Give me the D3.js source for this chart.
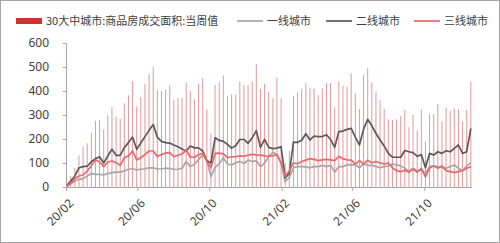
<!DOCTYPE html>
<html>
<head>
<meta charset="utf-8">
<script src="https://cdn.jsdelivr.net/npm/d3@7"></script>
<style>
  body { margin: 0; background: #fff; }
  svg { display: block; font-family: "Noto Sans CJK SC", "Noto Sans", sans-serif; }
</style>
</head>
<body>
<div id="chart"></div>
<script>
// weekly series, first week 2020-02-02
const startWeek = new Date(2020, 1, 2);

// 30大中城市:商品房成交面积:当周值 (万平方米)
const total = [10, 45, 80, 132, 168, 182, 226, 276, 279, 240, 298, 333, 293, 285, 349, 382, 442, 335, 375, 430,
  470, 501, 404, 400, 406, 425, 364, 369, 372, 435, 400, 365, 430, 453, 324, 225, 425, 437, 465, 380,
  385, 385, 439, 425, 425, 439, 512, 409, 430, 396, 370, 456, 370, 100, 150, 380, 395, 410, 432, 411,
  411, 383, 411, 433, 433, 332, 439, 421, 418, 474, 390, 325, 467, 494, 437, 397, 362, 326, 282, 279,
  282, 296, 321, 249, 300, 235, 324, 190, 304, 304, 346, 272, 331, 318, 328, 324, 272, 321, 439];

// 一线城市
const tier1 = [2, 12, 25, 32, 35, 46, 56, 53, 53, 50, 56, 60, 62, 62, 67, 74, 76, 71, 74, 76,
  80, 80, 75, 76, 78, 78, 73, 74, 78, 106, 85, 95, 114, 134, 110, 43, 82, 96, 122, 96,
  92, 101, 106, 99, 112, 106, 110, 85, 99, 126, 145, 135, 100, 22, 40, 80, 85, 85, 84, 80,
  85, 85, 90, 85, 90, 62, 85, 85, 92, 92, 92, 80, 98, 90, 90, 86, 80, 85, 88, 96,
  92, 88, 78, 64, 78, 68, 71, 57, 85, 88, 85, 82, 78, 85, 92, 78, 68, 88, 101];

// 二线城市
const tier2 = [5, 25, 46, 80, 85, 87, 105, 118, 126, 100, 130, 157, 132, 132, 164, 185, 208, 157, 183, 210,
  236, 260, 207, 190, 185, 183, 175, 168, 158, 150, 171, 163, 163, 150, 110, 100, 205, 194, 190, 178,
  162, 172, 198, 198, 182, 205, 235, 165, 198, 165, 160, 162, 168, 38, 57, 187, 186, 195, 222, 196,
  212, 210, 210, 218, 198, 165, 231, 233, 240, 244, 208, 175, 241, 282, 255, 224, 196, 171, 140, 124,
  124, 124, 152, 147, 143, 128, 135, 80, 140, 133, 147, 140, 151, 147, 161, 175, 140, 147, 244];

// 三线城市
const tier3 = [3, 15, 35, 46, 50, 67, 88, 113, 105, 85, 104, 108, 101, 90, 122, 129, 150, 113, 122, 135,
  150, 150, 127, 135, 142, 143, 126, 132, 138, 154, 124, 124, 135, 140, 108, 80, 140, 141, 138, 122,
  126, 126, 130, 128, 133, 136, 134, 133, 130, 129, 130, 135, 100, 45, 68, 100, 97, 106, 112, 118,
  115, 110, 113, 115, 113, 110, 128, 118, 113, 112, 95, 110, 95, 112, 101, 106, 100, 96, 100, 80,
  68, 64, 70, 62, 74, 62, 78, 42, 78, 88, 78, 88, 68, 64, 60, 64, 68, 78, 84];

const weeks = total.map((d, i) => d3.timeDay.offset(startWeek, 7 * i));

const xTicks = ['2020-02-01', '2020-06-01', '2020-10-01', '2021-02-01', '2021-06-01', '2021-10-01'];
const yTicks = [0, 100, 200, 300, 400, 500, 600];

const legendItems = [
  { name: '30大中城市:商品房成交面积:当周值', type: 'bar', color: '#d62f2f' },
  { name: '一线城市', type: 'line', color: '#a6a6a6' },
  { name: '二线城市', type: 'line', color: '#595959' },
  { name: '三线城市', type: 'line', color: '#e8696d' }
];

const width = 500, height = 243;
const margin = { top: 43, right: 28.6, bottom: 56, left: 66 };

const svg = d3.select('#chart')
  .append('svg')
  .attr('width', width)
  .attr('height', height);

// frame
svg.append('rect')
  .attr('x', 0.5).attr('y', 0.5)
  .attr('width', width - 1).attr('height', height - 1)
  .attr('fill', 'none')
  .attr('stroke', '#a6a6a6');

const xScale = d3.scaleTime()
  .domain([new Date(2020, 1, 1), new Date(2021, 11, 20)])
  .range([margin.left, width - margin.right]);
const yScale = d3.scaleLinear()
  .domain([0, 600])
  .range([height - margin.bottom, margin.top]);

// axes
const yAxis = svg.append('g')
  .attr('transform', `translate(${margin.left}, 0)`)
  .call(d3.axisLeft(yScale).tickValues(yTicks).tickSize(3).tickPadding(14));
yAxis.select('.domain').attr('stroke', '#a6a6a6');
yAxis.selectAll('.tick line').attr('stroke', '#a6a6a6');
yAxis.selectAll('text')
  .attr('fill', '#404040')
  .style('font-size', '12px')
  .style('font-family', '"Noto Sans", sans-serif');

const xAxis = svg.append('g')
  .attr('transform', `translate(0, ${yScale(0)})`)
  .call(d3.axisBottom(xScale)
    .tickValues(xTicks.map(d => new Date(d + 'T00:00:00')))
    .tickFormat(d3.timeFormat('%y/%m'))
    .tickSize(4)
    .tickSizeOuter(0));
xAxis.select('.domain').attr('stroke', '#a6a6a6');
xAxis.selectAll('.tick line').attr('stroke', '#a6a6a6');
xAxis.selectAll('text')
  .attr('fill', '#404040')
  .style('font-size', '12px')
  .style('font-family', '"Noto Sans", sans-serif')
  .attr('text-anchor', 'end')
  .attr('y', 0)
  .attr('dy', '0.35em')
  .attr('transform', 'translate(5, 14) rotate(-45)');

// bars
svg.append('g')
  .selectAll('rect')
  .data(total)
  .join('rect')
  .attr('x', (d, i) => xScale(weeks[i]) - 0.5)
  .attr('y', d => yScale(d))
  .attr('width', 1)
  .attr('height', d => yScale(0) - yScale(d))
  .attr('fill', '#e8979b');

// lines
const line = d3.line()
  .x((d, i) => xScale(weeks[i]))
  .y(d => yScale(d));

[[tier1, legendItems[1].color], [tier2, legendItems[2].color], [tier3, legendItems[3].color]]
  .forEach(([series, color]) => {
    svg.append('path')
      .datum(series)
      .attr('fill', 'none')
      .attr('stroke', color)
      .attr('stroke-width', 1.7)
      .attr('stroke-linejoin', 'round')
      .attr('d', line);
  });

// legend
const legendX = [16, 237, 326, 414];
const legend = svg.append('g').attr('class', 'legend');
legendItems.forEach((item, i) => {
  const g = legend.append('g').attr('transform', `translate(${legendX[i]}, 21)`);
  if (item.type === 'bar') {
    g.append('rect').attr('x', 0).attr('y', -3).attr('width', 26).attr('height', 6).attr('fill', item.color);
  } else {
    g.append('line').attr('x1', 0).attr('x2', 26).attr('y1', 0).attr('y2', 0)
      .attr('stroke', item.color).attr('stroke-width', 1.7);
  }
  g.append('text')
    .attr('x', 30)
    .attr('y', 0)
    .attr('dy', '0.36em')
    .attr('fill', '#404040')
    .style('font-size', '11px')
    .text(item.name);
});
</script>
</body>
</html>
